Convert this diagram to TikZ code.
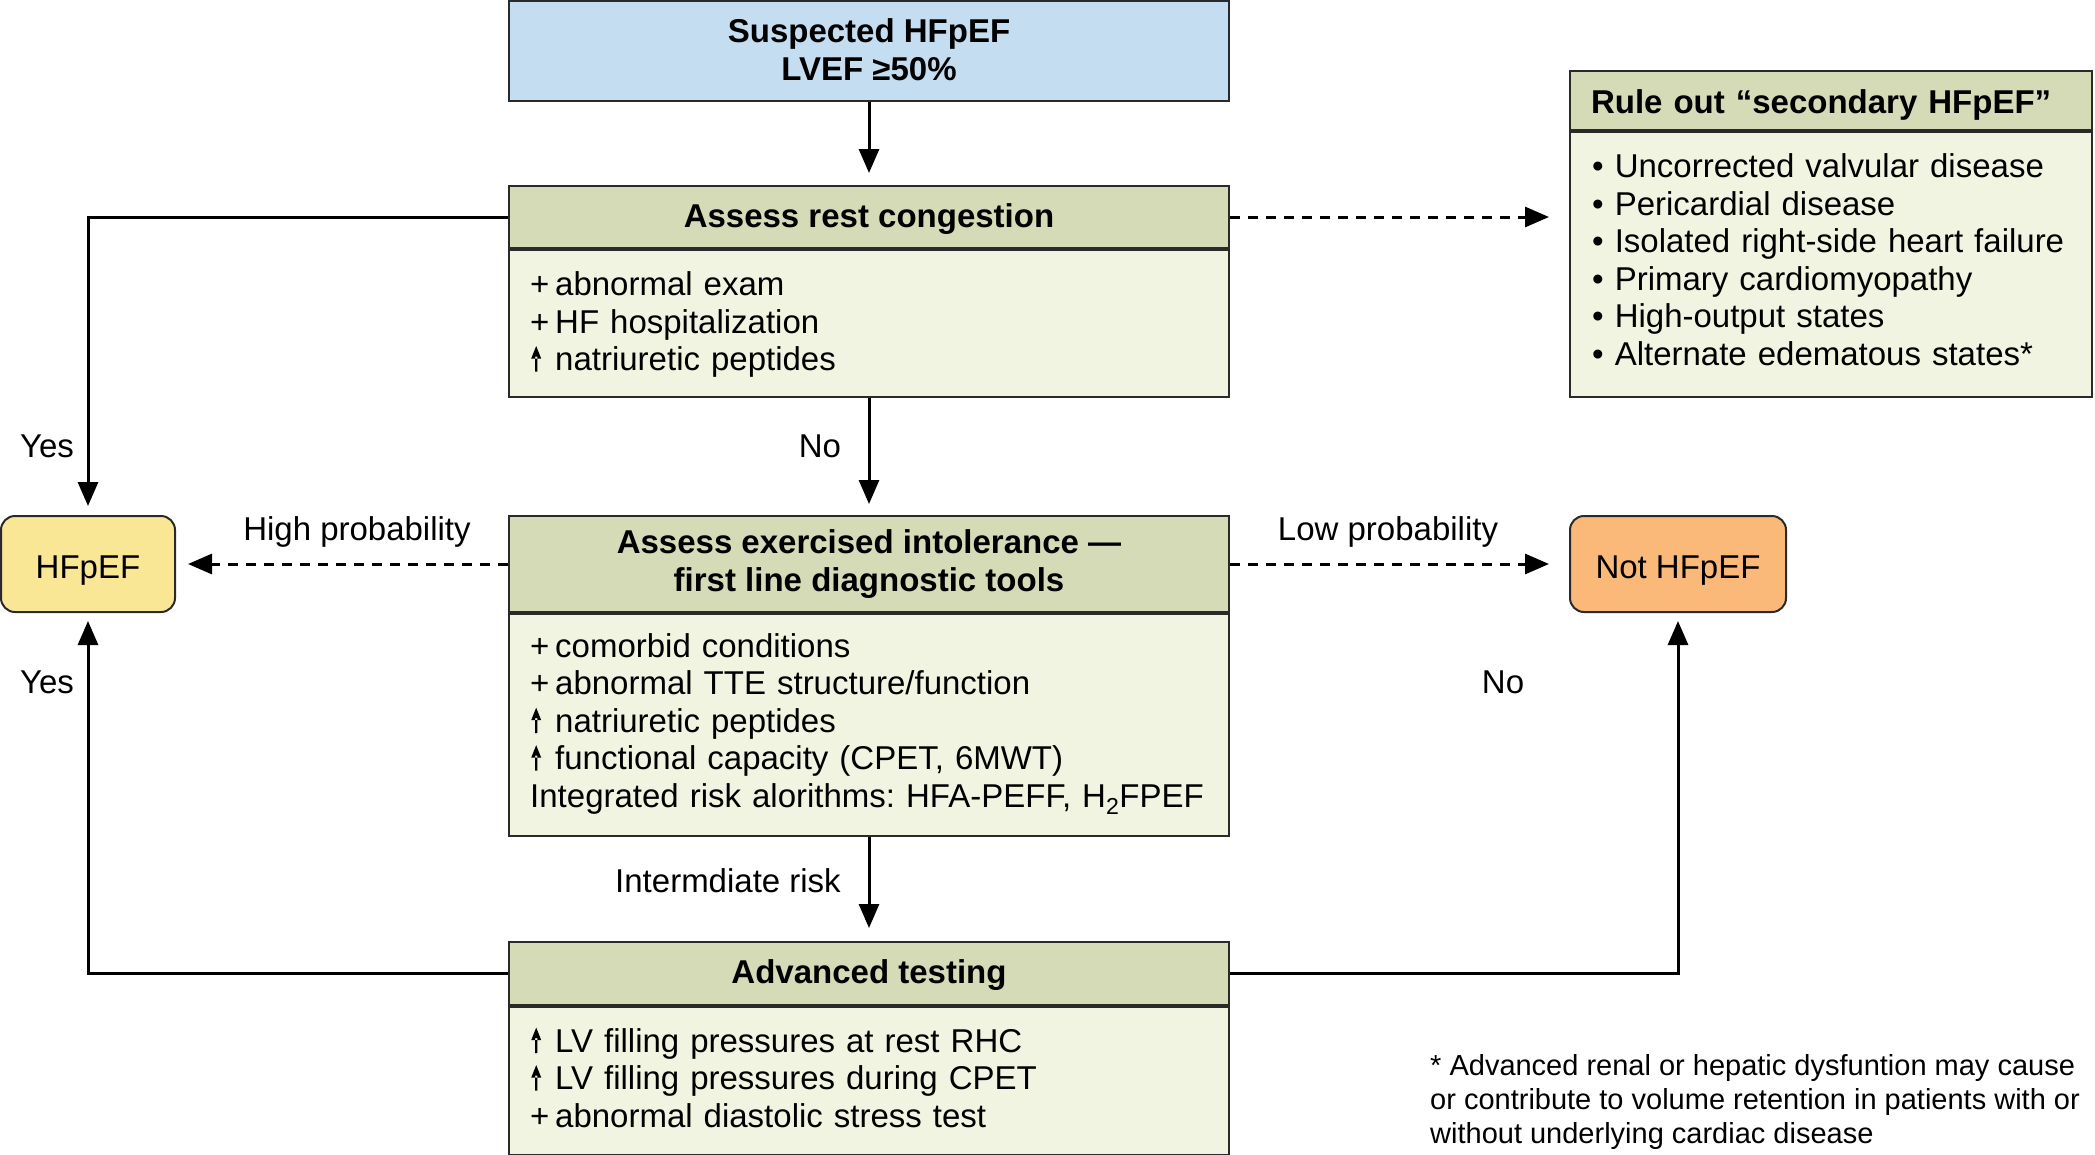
\documentclass[tikz,border=0pt]{standalone}
\usepackage{fontspec}
\setmainfont{Liberation Sans}
\usetikzlibrary{arrows.meta}
\definecolor{topblue}{HTML}{C5DDF0}
\definecolor{hdrc}{HTML}{D5DAB7}
\definecolor{bdyc}{HTML}{F1F4E0}
\definecolor{yelc}{HTML}{F9E796}
\definecolor{orac}{HTML}{FAB978}
\definecolor{bordc}{HTML}{2A2A2A}
\newcommand{\pl}{\makebox[25pt][l]{+}}
\newcommand{\up}{\makebox[25pt][l]{\hspace{1pt}\tikz[baseline=0pt,x=1pt,y=1pt]{\fill[black] (-1.2,-1) rectangle (1.2,14) (-5,12) -- (5,12) -- (0,24.5) -- cycle;}}}
\frenchspacing
\tikzset{
  box/.style={draw=bordc, line width=2pt, inner sep=0pt},
  hdr/.style={box, fill=hdrc, minimum width=720pt, font=\bfseries\fontsize{33}{37.5}\selectfont, align=center},
  bdy/.style={box, fill=bdyc, minimum width=720pt, anchor=north},
  btxt/.style={inner sep=0pt, anchor=west, align=left, text width=700pt, font=\fontsize{33}{37.5}\selectfont},
  term/.style={box, rounded corners=14pt, text height=29.6pt, text depth=0pt, font=\fontsize{33}{37.5}\selectfont},
  lbl/.style={inner sep=0pt, font=\fontsize{33}{37.5}\selectfont},
  arr/.style={line width=3pt, draw=black, -{Triangle[length=24pt,width=20pt]}},
  darr/.style={arr, dash pattern=on 10pt off 8pt}
}
\begin{document}
\begin{tikzpicture}[x=1pt,y=-1pt]
\useasboundingbox (0,0) rectangle (2095,1154);
% boxes
\node[hdr, fill=topblue, minimum height=100pt] (top) at (869,51) {\raisebox{3pt}{Suspected HFpEF}\\\raisebox{3pt}{LVEF ≥50\%}};
\node[hdr, minimum height=62pt, text height=21pt, text depth=0pt] (restH) at (869,217) {Assess rest congestion};
\node[bdy, minimum height=147pt] (restB) at (restH.south) {};
\node[hdr, minimum height=96pt] (exH) at (869,564) {\raisebox{-6pt}{Assess exercised intolerance —}\\\raisebox{-6pt}{first line diagnostic tools}};
\node[bdy, minimum height=222pt] (exB) at (exH.south) {};
\node[hdr, minimum height=63pt, text height=19.5pt, text depth=0pt] (advH) at (869,973.5) {Advanced testing};
\node[bdy, minimum height=148pt] (advB) at (advH.south) {};
\node[hdr, minimum width=522pt, minimum height=59pt, text width=480pt, inner xsep=21pt, align=left, text height=25.6pt, text depth=0pt] (ruleH) at (1831,100.5) {Rule out “secondary HFpEF”};
\node[bdy, minimum width=522pt, minimum height=265pt] (ruleB) at (ruleH.south) {};
\node[term, fill=yelc, minimum width=174pt, minimum height=96pt] (hf) at (88,564) {HFpEF};
\node[term, fill=orac, minimum width=216pt, minimum height=96pt] (nhf) at (1678,564) {Not HFpEF};
% body texts
\node[btxt] (restT) at (530,324.5) {\pl abnormal exam\\\pl HF hospitalization\\\up natriuretic peptides};
\node[btxt] (exT) at (530,724) {\pl comorbid conditions\\\pl abnormal TTE structure/function\\\up natriuretic peptides\\\up functional capacity (CPET, 6MWT)\\Integrated risk alorithms: HFA-PEFF, H\textsubscript{2}FPEF};
\node[btxt] (advT) at (530,1077.5) {\up LV filling pressures at rest RHC\\\up LV filling pressures during CPET\\\pl abnormal diastolic stress test};
\node[btxt, text width=490pt] (ruleT) at (1592,259.5) {• Uncorrected valvular disease\\• Pericardial disease\\• Isolated right-side heart failure\\• Primary cardiomyopathy\\• High-output states\\• Alternate edematous states*};
% connectors
\draw[arr, shorten >=12pt] (top.south) -- (restH.north);
\draw[arr, shorten >=9pt] (restH.west) -| (hf.north);
\draw[arr, shorten >=11pt] (restB.south) -- (exH.north);
\draw[darr, shorten >=20pt] (restH.east) -- (restH.east -| ruleB.west);
\draw[darr, shorten >=12pt] (exH.west) -- (hf.east);
\draw[darr, shorten >=20pt] (exH.east) -- (nhf.west);
\draw[arr, shorten >=13pt] (exB.south) -- (advH.north);
\draw[arr, shorten >=8pt] (advH.west) -| (hf.south);
\draw[arr, shorten >=8pt] (advH.east) -| (nhf.south);
% labels
\node[lbl] (yes1) at (47,446) {Yes};
\node[lbl] (no1) at (820,446) {No};
\node[lbl] (hp) at (357,532) {High probability};
\node[lbl] (lp) at (1388,532) {Low probability};
\node[lbl] (yes2) at (47,682) {Yes};
\node[lbl] (no2) at (1503,682) {No};
\node[lbl] (ir) at (728,881) {Intermdiate risk};
\node[inner sep=0pt, anchor=west, align=left, font=\fontsize{29}{33.8}\selectfont] (fn) at (1430,1102) {* Advanced renal or hepatic dysfuntion may cause\\or contribute to volume retention in patients with or\\without underlying cardiac disease};
\end{tikzpicture}
\end{document}
